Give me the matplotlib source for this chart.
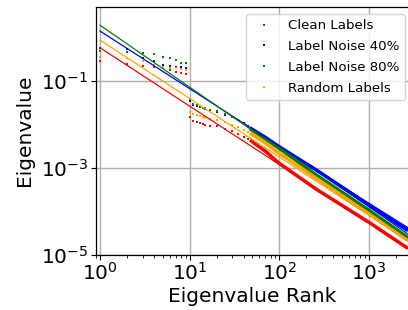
import matplotlib
matplotlib.use("Agg")
import matplotlib.pyplot as plt
from matplotlib.lines import Line2D
from matplotlib.ticker import LogLocator, NullLocator, NullFormatter, FixedLocator, FixedFormatter
import numpy as np

# ---------------- data (log10 eigenvalues) ----------------
labels = ["Clean Labels", "Label Noise 40%", "Label Noise 80%", "Random Labels"]
colors = ["red", "blue", "green", "orange"]

ranks_top = [1, 2, 3, 4, 5, 6, 7, 8, 9]
clean_top = [-0.54, -0.614, -0.647, -0.684, -0.707, -0.746, -0.785, -0.822, -0.845]
noise40_top = [-0.245, -0.26, -0.469, -0.538, -0.63, -0.647, -0.67, -0.684, -0.707]
noise80_top = [-0.30, -0.32, -0.36, -0.376, -0.453, -0.476, -0.515, -0.577, -0.591]
random_top = [-0.439, -0.457, -0.538, -0.63, -0.67, -0.693, -0.707, -0.723, -0.746]

ranks_mid = [10, 11, 12, 13, 14, 15, 17, 20, 25, 30, 35, 40, 45]
clean_mid = [-1.838, -1.917, -1.947, -1.97, -1.99, -2.01, -2.03, -2.046, -2.10, -2.148, -2.21, -2.28, -2.33]
noise40_mid = [-1.469, -1.547, -1.577, -1.60, -1.62, -1.64, -1.67, -1.716, -1.78, -1.838, -1.90, -1.97, -2.04]
noise80_mid = [-1.416, -1.531, -1.56, -1.59, -1.61, -1.63, -1.66, -1.693, -1.76, -1.83, -1.90, -1.98, -2.06]
random_mid = [-1.716, -1.762, -1.785, -1.80, -1.82, -1.84, -1.87, -1.894, -1.95, -2.009, -2.07, -2.12, -2.17]

ranks_band = [47, 70, 100, 260, 1000, 2716]
clean_band = [-2.36, -2.62, -2.90, -3.50, -4.26, -4.86]
noise40_band = [-2.08, -2.30, -2.517, -3.055, -3.864, -4.45]
noise80_band = [-2.10, -2.33, -2.554, -3.17, -3.98, -4.61]
random_band = [-2.20, -2.43, -2.67, -3.25, -4.06, -4.68]

# extra blue seeds that fan out in the tail
ranks_tail = [260, 1000, 2716]
noise40_tail_a = [-3.05, -3.82, -4.38]
noise40_tail_b = [-3.06, -3.90, -4.53]

# fitted power-law lines (log10 value at rank 1 and at rank 2716)
fit_ranks = [1, 2716]
clean_fit = [-0.23, -4.86]
noise40_fit = [0.155, -4.41]
noise80_fit = [0.29, -4.62]
random_fit = [-0.053, -4.69]

tops = [clean_top, noise40_top, noise80_top, random_top]
mids = [clean_mid, noise40_mid, noise80_mid, random_mid]
bands = [clean_band, noise40_band, noise80_band, random_band]
fits = [clean_fit, noise40_fit, noise80_fit, random_fit]

# ---------------- figure ----------------
W, H = 408, 310
fig = plt.figure(figsize=(W / 100, H / 100), dpi=100)
ax = fig.add_axes([95.7 / W, 55.5 / H, (W - 95.7) / W, 247.5 / H])

ms = 1.8
for top, mid, band, fit, c in zip(tops, mids, bands, fits, colors):
    ax.plot(ranks_top, 10 ** np.array(top), linestyle="none", marker="s", ms=ms, mew=0, color=c)
    ax.plot(ranks_mid, 10 ** np.array(mid), linestyle="none", marker="s", ms=ms, mew=0, color=c)
    ax.plot(ranks_band, 10 ** np.array(band), linestyle="-", lw=2.5, color=c, solid_capstyle="butt")

ax.plot(ranks_tail, 10 ** np.array(noise40_tail_a), lw=0.8, color="blue")
ax.plot(ranks_tail, 10 ** np.array(noise40_tail_b), lw=0.8, color="blue")

for fit, c in zip(fits, colors):
    ax.plot(fit_ranks, 10 ** np.array(fit), lw=0.9, color=c)

ax.set_xscale("log")
ax.set_yscale("log")
ax.set_xlim(10 ** -0.048, 2716)
ax.set_ylim(1e-5, 10 ** 0.71)

ax.xaxis.set_major_locator(FixedLocator([1, 10, 100, 1000]))
ax.xaxis.set_major_formatter(FixedFormatter([r"$10^{0}$", r"$10^{1}$", r"$10^{2}$", r"$10^{3}$"]))
ax.xaxis.set_minor_locator(LogLocator(base=10, subs=np.arange(2, 10)))
ax.xaxis.set_minor_formatter(NullFormatter())
ax.yaxis.set_major_locator(FixedLocator([1e-5, 1e-3, 1e-1]))
ax.yaxis.set_major_formatter(FixedFormatter([r"$10^{-5}$", r"$10^{-3}$", r"$10^{-1}$"]))
ax.yaxis.set_minor_locator(NullLocator())

ax.tick_params(which="major", direction="out", length=3.5, width=0.8, labelsize=14.5, pad=2)
ax.tick_params(which="minor", direction="out", length=2, width=0.6)
ax.grid(True, which="major", color="#b0b0b0", lw=1.0)
ax.set_axisbelow(True)
ax.spines["right"].set_visible(False)
for s in ["left", "bottom", "top"]:
    ax.spines[s].set_linewidth(0.9)

ax.set_xlabel("Eigenvalue Rank", fontsize=14.5, labelpad=2)
ax.set_ylabel("Eigenvalue", fontsize=14.5, labelpad=5)

handles = [Line2D([], [], linestyle="none", marker="s", ms=ms, mew=0, color=c) for c in colors]
ax.legend(handles, labels, loc="upper right", bbox_to_anchor=(405 / W, 1 - 14 / H),
          bbox_transform=fig.transFigure, fontsize=9.6, borderaxespad=0, numpoints=1,
          handletextpad=0.8, labelspacing=0.58, borderpad=0.4)

fig.savefig("out.png", dpi=100)
